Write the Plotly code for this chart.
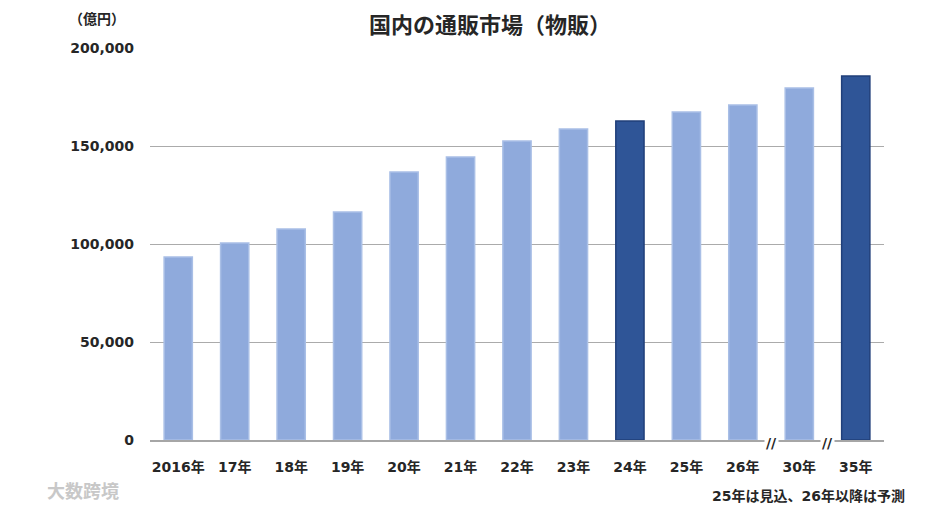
import plotly.graph_objects as go

categories = ["2016年", "17年", "18年", "19年", "20年", "21年", "22年", "23年", "24年", "25年", "26年", "30年", "35年"]
values = [93400, 100500, 107700, 116300, 136700, 144400, 152600, 158700, 162800, 167300, 170900, 179600, 185700]
highlight = ["24年", "35年"]
y_ticks = [0, 50000, 100000, 150000, 200000]
y_tick_labels = ["0", "50,000", "100,000", "150,000", "200,000"]

light = "#8FAADC"
dark = "#2F5597"
colors = [dark if c in highlight else light for c in categories]
line_colors = ["#203F7A" if c in highlight else "#A9BFE6" for c in categories]

font = "DejaVu Sans, Noto Sans CJK JP"
cjk = "Noto Sans CJK JP"
txt = "#262626"

fig = go.Figure()
fig.add_trace(go.Bar(
    x=categories, y=values,
    marker=dict(color=colors, line=dict(color=line_colors, width=1.5)),
    hoverinfo="x+y",
))

fig.update_layout(
    width=945, height=510,
    margin=dict(l=142, r=69, t=40, b=78),
    paper_bgcolor="white", plot_bgcolor="white",
    bargap=0.5,
    showlegend=False,
    font=dict(family=font, size=14, color=txt),
    title=dict(text="国内の通販市場（物販）", x=0.510, xanchor="center", y=0.967, yanchor="middle",
               font=dict(family=cjk, size=22, color=txt, weight="bold")),
    xaxis=dict(type="category", showgrid=False, showline=True, linecolor="#A6A6A6", linewidth=1.5,
               ticks="", tickfont=dict(family=font, size=14, color=txt, weight="bold"), ticklabelstandoff=13),
    yaxis=dict(range=[0, 200000], tickvals=y_ticks, ticktext=y_tick_labels,
               showgrid=True, gridcolor="#ABABAB", gridwidth=1.2, zeroline=False,
               ticks="", tickfont=dict(family=font, size=14, color=txt, weight="bold"), ticklabelstandoff=15),
    annotations=[
        dict(text="（億円）", xref="paper", yref="paper", x=-0.072, y=1.077, xanchor="center", yanchor="middle",
             showarrow=False, font=dict(family=cjk, size=14, color=txt, weight="bold")),
        dict(text="//", xref="x", yref="paper", x=10.5, y=-0.008, xanchor="center", yanchor="middle",
             showarrow=False, bgcolor="white", font=dict(family=font, size=14, color=txt, weight="bold")),
        dict(text="//", xref="x", yref="paper", x=11.5, y=-0.008, xanchor="center", yanchor="middle",
             showarrow=False, bgcolor="white", font=dict(family=font, size=14, color=txt, weight="bold")),
        dict(text="25年は見込、26年以降は予測", xref="paper", yref="paper", x=1.031, y=-0.143,
             xanchor="right", yanchor="middle", showarrow=False,
             font=dict(family=font, size=14, color=txt, weight="bold")),
        dict(text="大数跨境", xref="paper", yref="paper", x=-0.143, y=-0.128,
             xanchor="left", yanchor="middle", showarrow=False,
             font=dict(family=cjk, size=18, color="#C8C8C8", weight="bold")),
    ],
)

fig.write_html("out.html")
